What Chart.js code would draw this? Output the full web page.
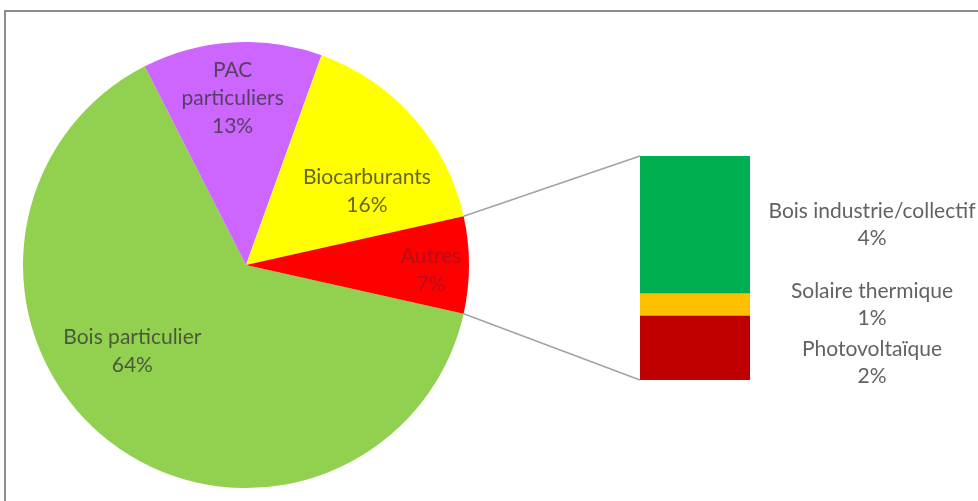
<!DOCTYPE html>
<html lang="fr">
<head>
<meta charset="utf-8">
<title>Répartition des énergies renouvelables</title>
<script src="https://cdn.jsdelivr.net/npm/chart.js@4.4.1/dist/chart.umd.min.js"></script>
<style>
  html, body { margin: 0; padding: 0; background: #fff; overflow: hidden; width: 978px; height: 501px; }
  #frame { position: absolute; left: 4px; top: 10px; width: 1200px; height: 800px;
           border-top: 2px solid #8c8c8c; border-left: 2px solid #8c8c8c; box-sizing: border-box; }
  canvas { position: absolute; }
  #links { left: 0; top: 0; pointer-events: none; }
  #pie { left: 23px; top: 42px; }
  #bar { left: 640px; top: 140px; }
</style>
</head>
<body>
<div id="frame"></div>
<canvas id="links" width="978" height="501"></canvas>
<canvas id="pie" width="446" height="446"></canvas>
<canvas id="bar" width="338" height="270"></canvas>
<script>
// Main pie: share of each renewable source (%)
const pieCategories = ['Bois particulier', ['PAC', 'particuliers'], 'Biocarburants', 'Autres'];
const pieValues = [64, 13, 16, 7];
const pieColors = ['#92d050', '#cc66ff', '#ffff00', '#ff0000'];

// Breakdown of the "Autres" slice, top to bottom (%)
const barCategories = ['Bois industrie/collectif', 'Solaire thermique', 'Photovoltaïque'];
const barValues = [4.3, 0.7, 2.0];
const barColors = ['#00b050', '#ffc000', '#c00000'];

const FONT = '21px Lato, "Open Sans", sans-serif';
const LINE_H = 28;
const pieTotal = pieValues.reduce((a, b) => a + b, 0);
const fmtPct = v => Math.round(v / pieTotal * 100) + '%';

// label placement inside each slice: radial fraction and angular nudge (deg)
const sliceLabelPlace = [
  { r: 0.64, d: 15 },
  { r: 0.75, d: -1 },
  { r: 0.635, d: 10 },
  { r: 0.83, d: 1.5 }
];

const pieLabelPlugin = {
  id: 'pieLabels',
  afterDatasetsDraw(chart) {
    const ctx = chart.ctx;
    const meta = chart.getDatasetMeta(0);
    ctx.save();
    ctx.font = FONT;
    ctx.textAlign = 'center';
    ctx.textBaseline = 'middle';
    meta.data.forEach((arc, i) => {
      const p = sliceLabelPlace[i];
      const mid = (arc.startAngle + arc.endAngle) / 2 + p.d * Math.PI / 180;
      const cx = arc.x + Math.cos(mid) * arc.outerRadius * p.r;
      const cy = arc.y + Math.sin(mid) * arc.outerRadius * p.r;
      const name = pieCategories[i];
      const lines = (Array.isArray(name) ? name : [name]).concat(fmtPct(pieValues[i]));
      const y0 = cy - (lines.length - 1) * LINE_H / 2;
      // dark text on the red slice stays low-contrast
      ctx.fillStyle = i === pieValues.length - 1 ? 'rgba(90,30,60,0.45)' : 'rgba(50,50,50,0.75)';
      lines.forEach((t, k) => ctx.fillText(t, cx, y0 + k * LINE_H));
    });
    ctx.restore();
  }
};

// the share of the exploded slice is centred on the 3 o'clock direction
const lastShare = pieValues[pieValues.length - 1] / pieTotal;
const pieChart = new Chart(document.getElementById('pie'), {
  type: 'pie',
  data: {
    labels: pieCategories,
    datasets: [{ data: pieValues, backgroundColor: pieColors, borderWidth: 0 }]
  },
  options: {
    responsive: false,
    animation: false,
    rotation: 90 + lastShare * 180,
    layout: { padding: 0 },
    plugins: { legend: { display: false }, tooltip: { enabled: false } }
  },
  plugins: [pieLabelPlugin]
});

const BAR_LINE_H = 27;
const BLOCK_GAP = 4;
const barLabelPlugin = {
  id: 'barLabels',
  afterDatasetsDraw(chart) {
    const ctx = chart.ctx;
    const x = chart.chartArea.right + 122;
    ctx.save();
    ctx.font = FONT;
    ctx.textAlign = 'center';
    ctx.textBaseline = 'middle';
    ctx.fillStyle = '#626262';
    let prevBottom = -Infinity;
    // walk segments from the top of the stack downwards
    barCategories.forEach((name, i) => {
      const dsIndex = barCategories.length - 1 - i;
      const el = chart.getDatasetMeta(dsIndex).data[0];
      const blockH = BAR_LINE_H * 2;
      let cy = (el.y + el.base) / 2;
      if (cy - blockH / 2 < prevBottom) cy = prevBottom + BLOCK_GAP + blockH / 2;
      prevBottom = cy + blockH / 2;
      const lines = [name, fmtPct(barValues[i])];
      lines.forEach((t, k) => ctx.fillText(t, x, cy - BAR_LINE_H / 2 + k * BAR_LINE_H));
    });
    ctx.restore();
  }
};

// stacked bar, bottom segment first
const barDatasets = barCategories.map((name, i) => ({
  label: name,
  data: [barValues[i]],
  backgroundColor: barColors[i],
  borderWidth: 0,
  barPercentage: 1,
  categoryPercentage: 1
})).reverse();

const barChart = new Chart(document.getElementById('bar'), {
  type: 'bar',
  data: { labels: ['Autres'], datasets: barDatasets },
  options: {
    responsive: false,
    animation: false,
    layout: { padding: { left: 0, right: 228, top: 16, bottom: 30 } },
    scales: {
      x: { display: false, stacked: true },
      y: { display: false, stacked: true, min: 0, max: barValues.reduce((a, b) => a + b, 0) }
    },
    plugins: { legend: { display: false }, tooltip: { enabled: false } }
  },
  plugins: [barLabelPlugin]
});

// connector lines from the exploded slice to the breakdown bar
function drawLinks() {
  const pieCanvas = document.getElementById('pie');
  const barCanvas = document.getElementById('bar');
  const pOff = { x: pieCanvas.offsetLeft, y: pieCanvas.offsetTop };
  const bOff = { x: barCanvas.offsetLeft, y: barCanvas.offsetTop };
  const arcs = pieChart.getDatasetMeta(0).data;
  const arc = arcs[arcs.length - 1];
  const R = arc.outerRadius;
  const top = { x: pOff.x + arc.x + R * Math.cos(arc.startAngle), y: pOff.y + arc.y + R * Math.sin(arc.startAngle) };
  const bot = { x: pOff.x + arc.x + R * Math.cos(arc.endAngle), y: pOff.y + arc.y + R * Math.sin(arc.endAngle) };
  let left = Infinity, yTop = Infinity, yBot = -Infinity;
  barChart.data.datasets.forEach((d, i) => {
    const el = barChart.getDatasetMeta(i).data[0];
    left = Math.min(left, el.x - el.width / 2);
    yTop = Math.min(yTop, el.y, el.base);
    yBot = Math.max(yBot, el.y, el.base);
  });
  const ctx = document.getElementById('links').getContext('2d');
  ctx.strokeStyle = '#a3a3a3';
  ctx.lineWidth = 1.6;
  ctx.beginPath();
  ctx.moveTo(top.x, top.y); ctx.lineTo(bOff.x + left, bOff.y + yTop);
  ctx.moveTo(bot.x, bot.y); ctx.lineTo(bOff.x + left, bOff.y + yBot);
  ctx.stroke();
}
drawLinks();
</script>
</body>
</html>
